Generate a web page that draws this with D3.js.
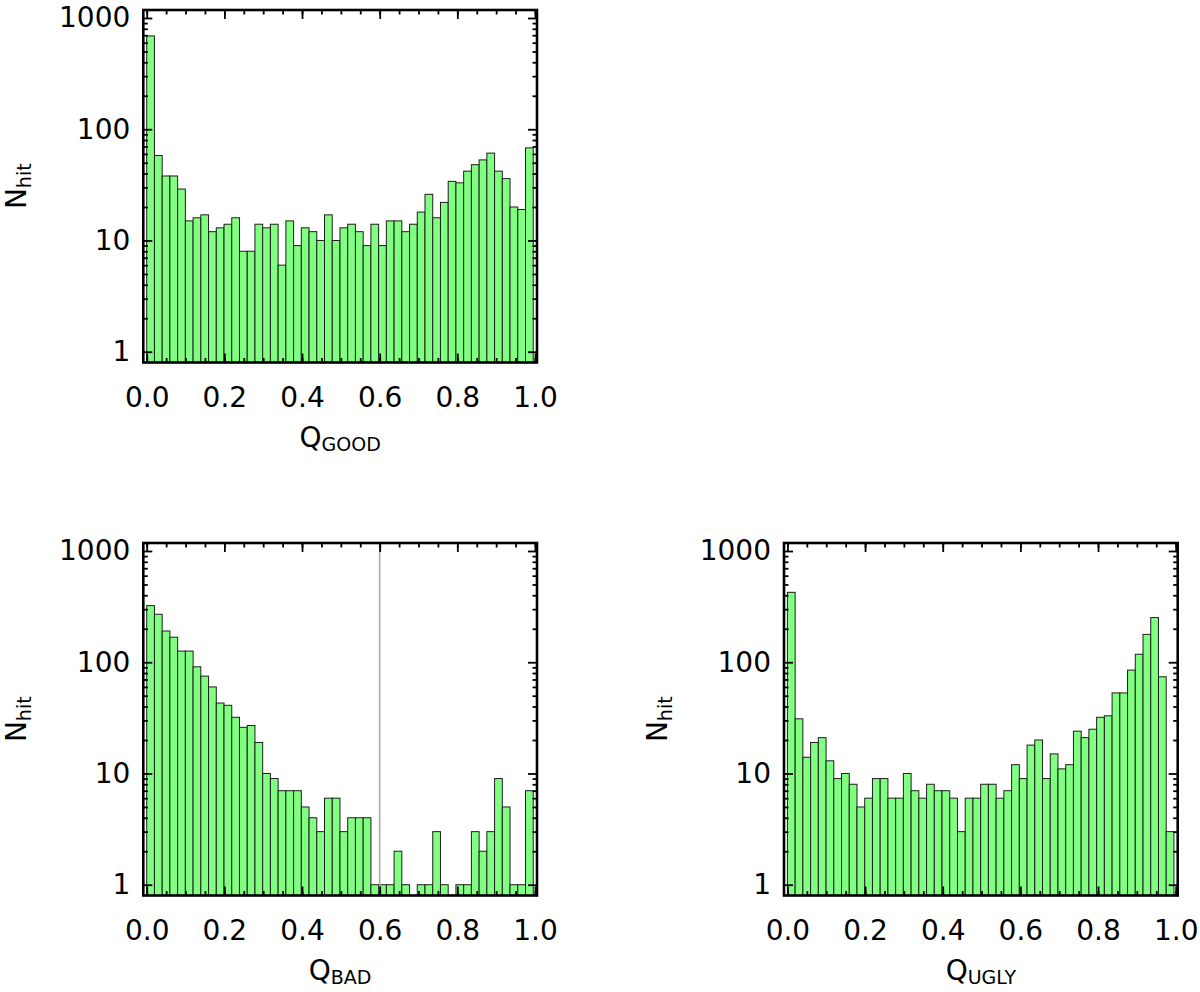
<!DOCTYPE html>
<html>
<head>
<meta charset="utf-8">
<script src="https://cdn.jsdelivr.net/npm/d3@7"></script>
<style>
  html, body { margin: 0; padding: 0; background: #fff; }
  svg { display: block; }
  text { font-family: "DejaVu Sans", "Liberation Sans", sans-serif; fill: #000; }
</style>
</head>
<body>
<svg id="chart" width="1200" height="992"></svg>
<script>
// ---------- data ----------
const binsGood = [690, 58, 38, 38, 29, 15, 16, 17, 12, 13,
                  14, 16, 8, 8, 14, 13, 14, 6, 15, 9,
                  13, 12, 10, 17, 10, 13, 14, 12, 9, 14,
                  9, 15, 15, 12, 14, 18, 26, 16, 22, 34,
                  33, 42, 48, 53, 61, 42, 36, 20, 19, 68];
const binsBad  = [323, 270, 191, 168, 126, 126, 91, 75, 60, 43,
                  41, 32, 26, 27, 19, 10, 9, 7, 7, 7,
                  5, 4, 3, 6, 6, 3, 4, 4, 4, 1,
                  1, 1, 2, 1, 0, 1, 1, 3, 1, 0,
                  1, 1, 3, 2, 3, 9, 5, 1, 1, 7];
const binsUgly = [425, 31, 14, 19, 21, 13, 9, 10, 8, 5,
                  6, 9, 9, 6, 6, 10, 7, 6, 8, 7,
                  7, 6, 3, 6, 6, 8, 8, 6, 7, 12,
                  9, 18, 20, 9, 15, 11, 12, 24, 21, 25,
                  32, 33, 53, 53, 85, 118, 178, 252, 74, 3];
const xTickValues = [0.0, 0.2, 0.4, 0.6, 0.8, 1.0];
const xTickLabels = ["0.0", "0.2", "0.4", "0.6", "0.8", "1.0"];
const yTickValues = [1, 10, 100, 1000];
const yTickLabels = ["1", "10", "100", "1000"];
const subLabels = ["GOOD", "BAD", "UGLY"];
const cutValue = 0.6;   // grey vertical line in the Q_BAD panel

// ---------- layout ----------
const binWidth = 0.01991;
const xDomain = [-0.0088, 1.0052];
const yDomain = [0.8, 1180];
const W = 393.7, H = 352.5;
const panels = [
  { bins: binsGood, sub: subLabels[0], left: 143.3, top: 10,  cut: false },
  { bins: binsBad,  sub: subLabels[1], left: 143.3, top: 543, cut: true  },
  { bins: binsUgly, sub: subLabels[2], left: 784,   top: 543, cut: false }
];

const svg = d3.select("#chart");

function minorLogTicks() {
  const out = [];
  for (let d = 0; d <= 3; d++) {
    for (let m = 2; m <= 9; m++) {
      const v = m * Math.pow(10, d);
      if (v < yDomain[1]) out.push(v);
    }
  }
  return out;
}
function minorXTicks() {
  const out = [];
  for (let i = 0; i <= 20; i++) out.push(i * 0.05);
  return out;
}

panels.forEach(p => {
  const g = svg.append("g").attr("transform", `translate(${p.left},${p.top})`);
  const x = d3.scaleLinear().domain(xDomain).range([0, W]);
  const y = d3.scaleLog().domain(yDomain).range([H, 0]);

  // bars
  g.append("g").selectAll("rect")
    .data(p.bins.map((v, i) => ({ v, i })).filter(d => d.v > 0))
    .join("rect")
    .attr("x", d => x(d.i * binWidth))
    .attr("width", d => x((d.i + 1) * binWidth) - x(d.i * binWidth))
    .attr("y", d => y(d.v))
    .attr("height", d => H - y(d.v))
    .attr("fill", "#80ff80")
    .attr("stroke", "#1e1e1e")
    .attr("stroke-width", 1);

  // cut line
  if (p.cut) {
    g.append("line")
      .attr("x1", x(cutValue)).attr("x2", x(cutValue))
      .attr("y1", 0).attr("y2", H)
      .attr("stroke", "#aaaaaa").attr("stroke-width", 1.6);
  }

  // ticks
  const styleAxis = sel => {
    sel.select(".domain").remove();
    sel.selectAll(".tick line").attr("stroke", "#000").attr("stroke-width", 1.8);
  };
  const fmtX = v => xTickLabels[xTickValues.indexOf(v)];
  const fmtY = v => yTickLabels[yTickValues.indexOf(v)];

  g.append("g").attr("transform", `translate(0,${H})`)
    .call(d3.axisBottom(x).tickValues(xTickValues).tickFormat(fmtX).tickSizeInner(-9).tickSizeOuter(0).tickPadding(24))
    .call(styleAxis)
    .call(s => s.selectAll("text").attr("font-size", 28).attr("font-family", "DejaVu Sans").attr("dy", "0.71em").attr("y", 25));
  g.append("g").attr("transform", `translate(0,${H})`)
    .call(d3.axisBottom(x).tickValues(minorXTicks()).tickFormat("").tickSizeInner(-4.5).tickSizeOuter(0))
    .call(styleAxis);
  g.append("g")
    .call(d3.axisTop(x).tickValues(xTickValues).tickFormat("").tickSizeInner(-9).tickSizeOuter(0))
    .call(styleAxis);
  g.append("g")
    .call(d3.axisTop(x).tickValues(minorXTicks()).tickFormat("").tickSizeInner(-4.5).tickSizeOuter(0))
    .call(styleAxis);

  g.append("g")
    .call(d3.axisLeft(y).tickValues(yTickValues).tickFormat(fmtY).tickSizeInner(-9).tickSizeOuter(0).tickPadding(13))
    .call(styleAxis)
    .call(s => s.selectAll("text").attr("font-size", 28).attr("font-family", "DejaVu Sans"));
  g.append("g")
    .call(d3.axisLeft(y).tickValues(minorLogTicks()).tickFormat("").tickSizeInner(-4.5).tickSizeOuter(0))
    .call(styleAxis);
  g.append("g").attr("transform", `translate(${W},0)`)
    .call(d3.axisRight(y).tickValues(yTickValues).tickFormat("").tickSizeInner(-9).tickSizeOuter(0))
    .call(styleAxis);
  g.append("g").attr("transform", `translate(${W},0)`)
    .call(d3.axisRight(y).tickValues(minorLogTicks()).tickFormat("").tickSizeInner(-4.5).tickSizeOuter(0))
    .call(styleAxis);

  // frame
  g.append("rect")
    .attr("x", 0).attr("y", 0).attr("width", W).attr("height", H)
    .attr("fill", "none").attr("stroke", "#000").attr("stroke-width", 2.6);

  // x title: Q_sub
  const xt = g.append("text")
    .attr("x", W / 2).attr("y", H + 84)
    .attr("text-anchor", "middle")
    .attr("font-size", 28);
  xt.append("tspan").text("Q");
  xt.append("tspan").attr("font-size", 19).attr("dy", 4).text(p.sub);

  // y title: N_hit
  const yt = g.append("text")
    .attr("transform", `translate(${-117},${H / 2}) rotate(-90)`)
    .attr("text-anchor", "middle")
    .attr("font-size", 28);
  yt.append("tspan").text("N");
  yt.append("tspan").attr("font-size", 19).attr("dy", 5).text("hit");
});
</script>
</body>
</html>
